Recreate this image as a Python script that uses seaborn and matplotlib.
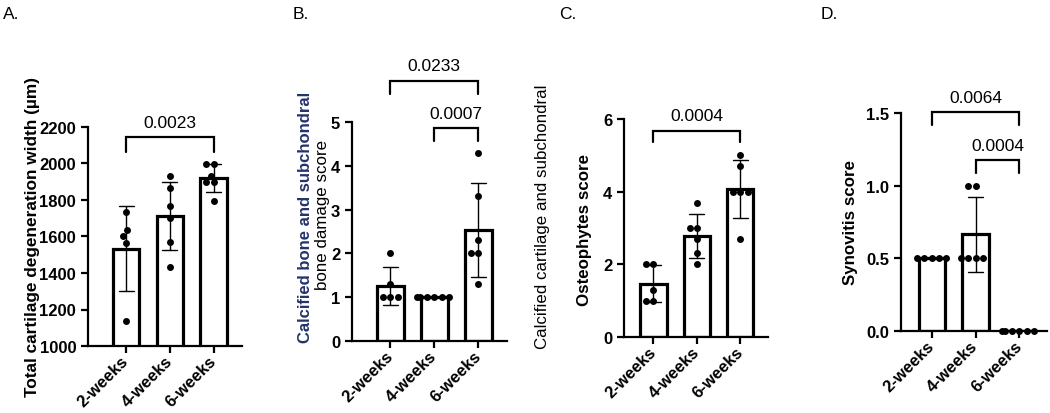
import numpy as np
import pandas as pd
import seaborn as sns
import matplotlib
matplotlib.use('Agg')
from matplotlib import pyplot as plt

sns.set_style("ticks")
plt.rcParams['font.family'] = ['Liberation Sans', 'DejaVu Sans']
plt.rcParams.update({"text.color": "black", "axes.labelcolor": "black",
                     "xtick.color": "black", "ytick.color": "black",
                     "axes.edgecolor": "black"})

groups = ["2-weeks", "4-weeks", "6-weeks"]

# A. total cartilage degeneration width (um)
a_2w = [1733, 1634, 1601, 1566, 1135]
a_4w = [1933, 1864, 1765, 1700, 1572, 1435]
a_6w = [1997, 1997, 1933, 1897, 1897, 1796]

# B. calcified bone and subchondral bone damage score
b_2w = [2.0, 1.3, 1.0, 1.0, 1.0]
b_4w = [1.0, 1.0, 1.0, 1.0, 1.0, 1.0]
b_6w = [4.3, 3.3, 2.3, 2.0, 2.0, 1.3]

# C. osteophytes score
c_2w = [2.0, 2.0, 1.3, 1.0, 1.0]
c_4w = [3.7, 3.0, 3.0, 2.7, 2.3, 2.0]
c_6w = [5.0, 4.7, 4.0, 4.0, 4.0, 2.7]

# D. synovitis score
d_2w = [0.5, 0.5, 0.5, 0.5, 0.5]
d_4w = [1.0, 1.0, 0.5, 0.5, 0.5, 0.5]
d_6w = [0.0, 0.0, 0.0, 0.0, 0.0, 0.0]

# p-values: (group i, group j, bracket level, p)
a_pvals = [(0, 2, 2143, "0.0023")]
b_pvals = [(0, 2, 5.94, "0.0233"), (1, 2, 4.86, "0.0007")]
c_pvals = [(0, 2, 5.68, "0.0004")]
d_pvals = [(0, 2, 1.507, "0.0064"), (1, 2, 1.174, "0.0004")]


def long_df(*cols):
    rows = []
    for g, vals in zip(groups, cols):
        for v in vals:
            rows.append({"group": g, "value": v})
    return pd.DataFrame(rows)


def panel(ax, df, ylim, yticks, xlim, pvals, tick_len_frac, fmt=None):
    sns.barplot(data=df, x="group", y="value", order=groups, ax=ax,
                errorbar="sd", color="white", saturation=1, width=0.6,
                edgecolor="black", linewidth=2.3, capsize=0.34,
                err_kws={"color": "black", "linewidth": 1.0})
    sns.swarmplot(data=df, x="group", y="value", order=groups, ax=ax,
                  color="black", size=5, zorder=5, clip_on=False)
    ax.set_ylim(*ylim)
    ax.set_xlim(*xlim)
    ax.set_yticks(yticks)
    if fmt:
        ax.set_yticklabels([fmt % t for t in yticks])
    ax.set_xlabel("")
    ax.set_ylabel("")
    sns.despine(ax=ax)
    for s in ["left", "bottom"]:
        ax.spines[s].set_linewidth(1.6)
        ax.spines[s].set_color("black")
    ax.tick_params(axis="both", width=1.6, length=5, labelsize=12, colors="black")
    for lab in ax.get_yticklabels():
        lab.set_fontweight("bold")
    for lab in ax.get_xticklabels():
        lab.set_fontweight("bold")
        lab.set_rotation(45)
        lab.set_ha("right")
        lab.set_va("center")
        lab.set_rotation_mode("anchor")
    h = (ylim[1] - ylim[0]) * tick_len_frac
    for i, j, y, p in pvals:
        ax.plot([i, i, j, j], [y - h, y, y, y - h], color="black", lw=1.6,
                clip_on=False, solid_joinstyle="miter")
        ax.annotate(p, xy=((i + j) / 2, y), xytext=(0, 7.5), textcoords="offset points",
                    ha="center", va="baseline", fontsize=12.5, annotation_clip=False)


fig = plt.figure(figsize=(10.5, 4.14), dpi=100)
W, H = 1050, 414


def add_ax(x0, x1, ytop, ybot):
    return fig.add_axes([x0 / W, 1 - ybot / H, (x1 - x0) / W, (ybot - ytop) / H])


ax_a = add_ax(88, 242, 128, 347)
ax_b = add_ax(352, 507, 123, 342)
ax_c = add_ax(624, 768, 120, 338)
ax_d = add_ax(901, 1047, 114, 332)

panel(ax_a, long_df(a_2w, a_4w, a_6w), (1000, 2200), list(range(1000, 2201, 200)),
      (-0.87, 2.65), a_pvals, 0.068)
panel(ax_b, long_df(b_2w, b_4w, b_6w), (0, 5), [0, 1, 2, 3, 4, 5],
      (-0.87, 2.65), b_pvals, 0.06)
panel(ax_c, long_df(c_2w, c_4w, c_6w), (0, 6), [0, 2, 4, 6],
      (-0.68, 2.64), c_pvals, 0.053)
panel(ax_d, long_df(d_2w, d_4w, d_6w), (0, 1.5), [0, 0.5, 1.0, 1.5],
      (-0.7, 2.63), d_pvals, 0.058, fmt="%.1f")

# y labels
fig.text(33 / W, 1 - 237 / H, "Total cartilage degeneration width (µm)", rotation=90,
         ha="center", va="center", fontsize=12.4, fontweight="bold")
fig.text(305 / W, 1 - 217 / H, "Calcified bone and subchondral", rotation=90,
         ha="center", va="center", fontsize=12, fontweight="bold", color="#24336b")
fig.text(322 / W, 1 - 215 / H, "bone damage score", rotation=90,
         ha="center", va="center", fontsize=12.2)
fig.text(543 / W, 1 - 217 / H, "Calcified cartilage and subchondral", rotation=90,
         ha="center", va="center", fontsize=12.2)
fig.text(585 / W, 1 - 230 / H, "Osteophytes score", rotation=90,
         ha="center", va="center", fontsize=12.2, fontweight="bold")
fig.text(850 / W, 1 - 223 / H, "Synovitis score", rotation=90,
         ha="center", va="center", fontsize=12.2, fontweight="bold")

# panel letters
for x, letter in [(3, "A."), (293, "B."), (559, "C."), (821, "D.")]:
    fig.text(x / W, 1 - 19 / H, letter, ha="left", va="baseline", fontsize=12.5)

fig.savefig("out.png", dpi=100)
